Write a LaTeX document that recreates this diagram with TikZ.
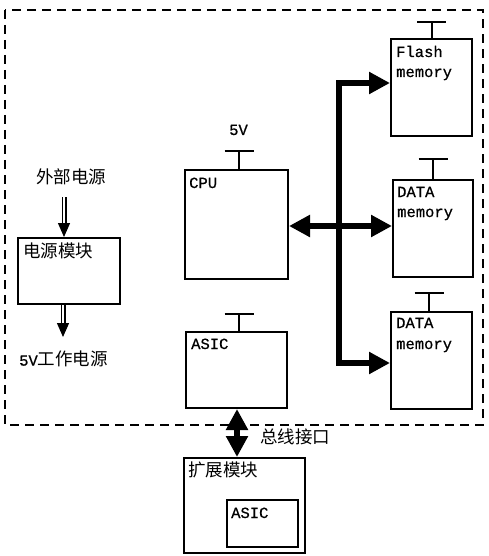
\documentclass[tikz,border=0pt]{standalone}
\usepackage{fontspec}
\setmainfont[FakeBold=0.6]{Liberation Mono}
\newfontfamily\cjk{Noto Sans CJK SC}
\usetikzlibrary{arrows.meta,calc}
\newcommand\mytee[3]{\draw[tbar] ($(#1.north)+(#2,0)$) -- ++(0,-#3) ++(-14.5,0) -- ++(29,0);}
\begin{document}
\begin{tikzpicture}[x=1pt,y=-1pt,
  box/.style={draw, line width=2pt, rectangle, inner sep=0pt, anchor=north west},
  lat/.style={font=\fontsize{15.5}{18}\selectfont, inner sep=0pt, anchor=base west},
  zh/.style={font=\fontsize{17.5}{20}\selectfont\cjk, inner sep=0pt},
  tbar/.style={line width=2pt},
  bus/.style={line width=5.5pt, {Triangle[length=21pt,width=21pt]}-{Triangle[length=21pt,width=21pt]}},
  dbl/.style={double, double distance=2.2pt, line width=1.4pt, -{Triangle[length=14pt,width=12pt]}},
  frame/.style={dash pattern=on 9pt off 6pt, line width=2pt}]
\useasboundingbox (0,0) rectangle (488,556);
\draw[frame] (5,10) rectangle (483,425);
% boxes
\node[box, minimum width=81pt, minimum height=97pt] (flash) at (390,38) {};
\node[box, minimum width=80pt, minimum height=97pt] (d1) at (392,179) {};
\node[box, minimum width=81pt, minimum height=97pt] (d2) at (390,311) {};
\node[box, minimum width=103pt, minimum height=109pt] (cpu) at (184,169) {};
\node[box, minimum width=101pt, minimum height=76pt] (asic) at (185,331) {};
\node[box, minimum width=102pt, minimum height=66pt] (pm) at (17,237) {};
\node[box, fill=white, minimum width=121pt, minimum height=95pt] (exp) at (183,457) {};
\node[box, minimum width=71pt, minimum height=47pt] (easic) at (226,499) {};
% tees
\mytee{flash}{0}{16}
\mytee{d1}{0}{20}
\mytee{d2}{-2.5}{18}
\mytee{cpu}{2.5}{18}
\mytee{asic}{2.5}{17}
% labels
\node[lat] (tflash) at (396,57) {Flash};
\node[lat] (tmem1) at (396,77) {memory};
\node[lat] (td1) at (397,197) {DATA};
\node[lat] (tmem2) at (397,217) {memory};
\node[lat] (td2) at (396,328) {DATA};
\node[lat] (tmem3) at (396,349) {memory};
\node[lat] (tcpu) at (189,188) {CPU};
\node[lat] (tasic) at (191,349) {ASIC};
\node[lat] (teasic) at (231,518) {ASIC};
\node[lat] (t5v) at (229,135) {5V};
\node[zh] (ext) at (71,177) {外部电源};
\node[zh, anchor=west] (tpm) at (23,251) {电源模块};
\node[zh, anchor=west] (out) at (19,359) {{\fontsize{15.5}{18}\selectfont\rmfamily 5V}工作电源};
\node[zh, anchor=west] (texp) at (188,470) {扩展模块};
\node[zh, anchor=west] (tbus) at (260,437) {总线接口};
% bus
\coordinate (bt) at (339,83);
\coordinate (bb) at (339,363);
\coordinate (bm) at (339,226);
\draw[bus] (bt -| flash.west) -- (bt) -- (bb) -- (bb -| d2.west);
\draw[bus] (cpu.east |- bm) -- (bm -| d1.west);
\coordinate (vb) at (237,432);
\draw[bus] (asic.south -| vb) -- (exp.north -| vb);
% power arrows
\coordinate (pin) at (64,197);
\draw[dbl] (pin) -- (pin |- pm.north);
\coordinate (pout) at (63,337);
\draw[dbl] (pm.south -| pout) -- (pout);
\end{tikzpicture}
\end{document}
